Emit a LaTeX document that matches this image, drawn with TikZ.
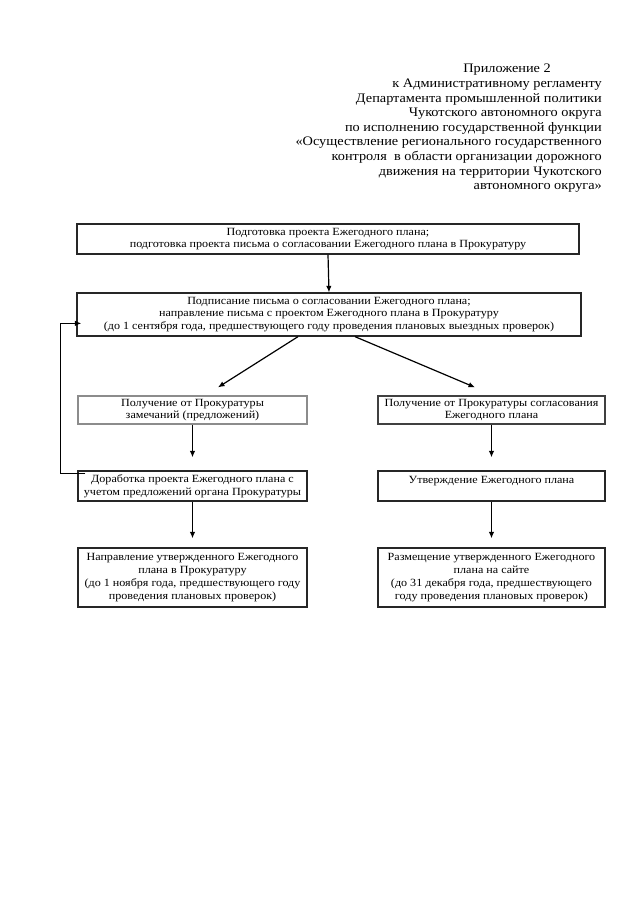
\documentclass[tikz,border=0pt]{standalone}
\usepackage{fontspec}
\setmainfont{Liberation Serif}
\newfontfamily\boxfont{Liberation Serif}[FakeStretch=1.1]
\newfontfamily\hdrfont{Liberation Serif}[FakeStretch=1.1]
\usetikzlibrary{arrows.meta}
\begin{document}
\begin{tikzpicture}[x=1pt,y=1pt,
  box/.style={draw=black!85, line width=1.3pt, inner sep=0pt, align=center,
    font=\boxfont\fontsize{11}{12.8}\selectfont},
  arr/.style={line width=1.2pt, -{Latex[length=6.5pt,width=5.5pt]}},
  hdr/.style={anchor=north east, inner sep=0pt, align=right,
    font=\hdrfont\fontsize{13}{14.6}\selectfont}]
\useasboundingbox (0,0) rectangle (640,-905);
\node[hdr] (h) at (602,-64) {\mbox{Приложение 2\hspace{51pt}}\\
к Административному регламенту\\
Департамента промышленной политики\\
Чукотского автономного округа\\
по исполнению государственной функции\\
«Осуществление регионального государственного\\
контроля\ \ в области организации дорожного\\
движения на территории Чукотского\\
автономного округа»};
\node[box, minimum width=502pt, minimum height=30pt] (b1) at (328,-239)
  {Подготовка проекта Ежегодного плана;\\
   подготовка проекта письма о согласовании Ежегодного плана в Прокуратуру};
\node[box, minimum width=504pt, minimum height=43pt] (b2) at (329,-314.5)
  {Подписание письма о согласовании Ежегодного плана;\\
   направление письма с проектом Ежегодного плана в Прокуратуру\\
   (до 1 сентября года, предшествующего году проведения плановых выездных проверок)};
\node[box, draw=black!45, minimum width=229pt, minimum height=28pt] (b3) at (192.5,-410)
  {Получение от Прокуратуры\\замечаний (предложений)};
\node[box, draw=black!75, minimum width=227pt, minimum height=28pt] (b4) at (491.5,-410)
  {Получение от Прокуратуры согласования\\Ежегодного плана};
\node[box, minimum width=229pt, minimum height=30pt] (b5) at (192.5,-486)
  {Доработка проекта Ежегодного плана с\\учетом предложений органа Прокуратуры};
\node[box, minimum width=227pt, minimum height=30pt] (b6) at (491.5,-486)
  {Утверждение Ежегодного плана\\\mbox{}};
\node[box, minimum width=229pt, minimum height=59pt] (b7) at (192.5,-577.5)
  {Направление утвержденного Ежегодного\\плана в Прокуратуру\\
   (до 1 ноября года, предшествующего году\\проведения плановых проверок)};
\node[box, minimum width=227pt, minimum height=59pt] (b8) at (491.5,-577.5)
  {Размещение утвержденного Ежегодного\\плана на сайте\\
   (до 31 декабря года, предшествующего\\году проведения плановых проверок)};
\draw[arr] (b1.south) -- (b2.north);
\draw[arr] ([xshift=-31pt]b2.south) -- ([xshift=25.5pt,yshift=8pt]b3.north);
\draw[arr] ([xshift=26pt]b2.south) -- ([xshift=-16.5pt,yshift=8pt]b4.north);
\draw[arr] (b3.south) -- ([yshift=13pt]b5.north);
\draw[arr] (b4.south) -- ([yshift=13pt]b6.north);
\draw[arr] (b5.south) -- ([yshift=9pt]b7.north);
\draw[arr] (b6.south) -- ([yshift=9pt]b8.north);
\draw[arr] ([xshift=8pt,yshift=-3pt]b5.north west) -- ++(-25,0)
  |- ([xshift=5pt,yshift=-31pt]b2.north west);
\end{tikzpicture}
\end{document}
